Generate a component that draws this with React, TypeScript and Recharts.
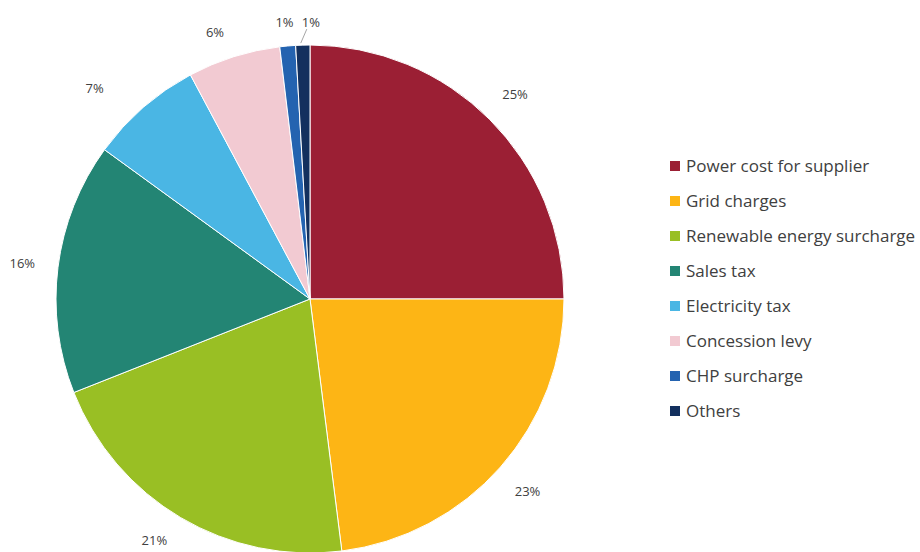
import React from 'react';
import { PieChart, Pie, Cell, Legend } from 'recharts';

const NAMES = [
  'Power cost for supplier',
  'Grid charges',
  'Renewable energy surcharge',
  'Sales tax',
  'Electricity tax',
  'Concession levy',
  'CHP surcharge',
  'Others',
];
const VALUES = [25, 23, 21, 16, 7.2, 5.9, 1.0, 0.9];
const COLORS = ['#9b1f34', '#fdb515', '#99bf24', '#238574', '#4ab6e4', '#f2cad2', '#2463b0', '#13305e'];

const data = NAMES.map((name, i) => ({ name, value: VALUES[i] }));

const FONT = '"Open Sans", Lato, sans-serif';
const RAD = Math.PI / 180;

function renderLabel(props: any) {
  const { cx, cy, midAngle, outerRadius, percent, index } = props;
  const r = outerRadius + 36;
  let x = cx + r * Math.cos(-midAngle * RAD);
  let y = cy + r * Math.sin(-midAngle * RAD);
  const text = `${Math.round(percent * 100)}%`;
  if (index === NAMES.length - 1) {
    // small slice: pushed aside with a leader line
    const ex = cx + (outerRadius + 2) * Math.cos(-midAngle * RAD);
    const ey = cy + (outerRadius + 2) * Math.sin(-midAngle * RAD);
    x += 9;
    y += 13;
    return (
      <g>
        <line x1={ex - 2} y1={ey} x2={x - 4} y2={y + 7} stroke="#a6a6a6" strokeWidth={1} />
        <text x={x} y={y} fill="#404040" fontSize={13} fontFamily={FONT} textAnchor="middle" dominantBaseline="central">
          {text}
        </text>
      </g>
    );
  }
  if (index === NAMES.length - 2) y += 12;
  if (index === 2) { x -= 8; y -= 9; }
  if (index === 4) { x -= 25; y += 8; }
  if (index === 5) { x -= 8; y += 10; }
  return (
    <text x={x} y={y} fill="#404040" fontSize={13} fontFamily={FONT} textAnchor="middle" dominantBaseline="central">
      {text}
    </text>
  );
}

function LegendList() {
  return (
    <div style={{ fontFamily: FONT, fontSize: 17, color: '#404040' }}>
      {NAMES.map((n, i) => (
        <div key={n} style={{ display: 'flex', alignItems: 'center', height: 35, whiteSpace: 'nowrap' }}>
          <span style={{ width: 10, height: 10, background: COLORS[i], marginRight: 6, display: 'inline-block', flexShrink: 0 }} />
          <span>{n}</span>
        </div>
      ))}
    </div>
  );
}

export default function App() {
  return (
    <div style={{ position: 'absolute', left: 0, top: 0, width: 920, height: 552, background: '#fff', overflow: 'hidden' }}>
      <PieChart width={920} height={552} margin={{ top: 0, right: 0, bottom: 0, left: 0 }}>
        <Pie
          data={data}
          dataKey="value"
          nameKey="name"
          cx={310}
          cy={299}
          outerRadius={254}
          startAngle={90}
          endAngle={-270}
          stroke="#fff"
          strokeWidth={1}
          label={renderLabel}
          labelLine={false}
          isAnimationActive={false}
        >
          {data.map((d, i) => (
            <Cell key={d.name} fill={COLORS[i]} />
          ))}
        </Pie>
        <Legend
          layout="vertical"
          content={() => <LegendList />}
          wrapperStyle={{ position: 'absolute', left: 670, top: 148, width: 250 }}
        />
      </PieChart>
    </div>
  );
}
